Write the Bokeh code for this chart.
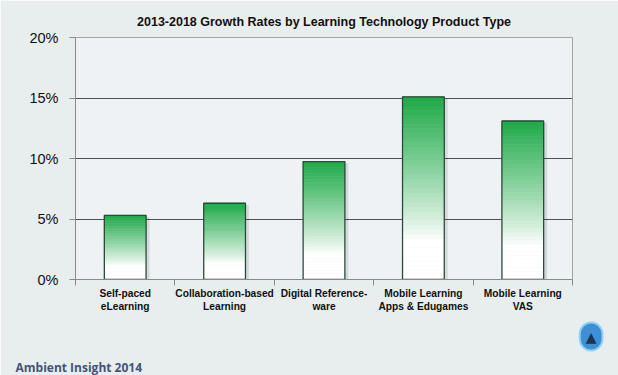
from bokeh.plotting import figure
from bokeh.models import (Range1d, LinearAxis, FixedTicker, PrintfTickFormatter,
                          Title)
from bokeh.embed import file_html
from bokeh.resources import INLINE

# ---- data ----
categories = ["Self-paced\neLearning", "Collaboration-based\nLearning",
              "Digital Reference-\nware", "Mobile Learning\nApps & Edugames",
              "Mobile Learning\nVAS"]
growth_pct = [5.3, 6.3, 9.75, 15.1, 13.1]
y_ticks = [0, 5, 10, 15, 20]
title_text = "2013-2018 Growth Rates by Learning Technology Product Type"
footer_text = "Ambient Insight  2014"

n = len(categories)
centers = [i + 0.5 for i in range(n)]

p = figure(width=618, height=375, output_backend="svg", toolbar_location=None,
           x_range=Range1d(0, n), y_range=Range1d(0, 20),
           min_border_left=75, min_border_right=46, min_border_top=37,
           min_border_bottom=96)

p.background_fill_color = "#eef2f4"
p.border_fill_color = "#e8eeed"
p.outline_line_color = "#a0a4a6"

# title
p.title = Title(text=title_text, align="center", offset=-18,
                text_font="Liberation Sans", text_font_style="bold",
                text_font_size="12.5px", text_color="#111111", standoff=18)

# grid
p.xgrid.visible = False
p.ygrid.ticker = FixedTicker(ticks=y_ticks)
p.ygrid.grid_line_color = "#505050"
p.ygrid.grid_line_width = 1

# y axis
p.yaxis.ticker = FixedTicker(ticks=y_ticks)
p.yaxis.formatter = PrintfTickFormatter(format="%d%%")
p.yaxis.major_label_text_font = "Liberation Sans"
p.yaxis.major_label_text_font_size = "14.5px"
p.yaxis.major_label_text_color = "#111111"
p.yaxis.axis_line_color = "#8a8a8a"
p.yaxis.major_tick_line_color = "#8a8a8a"
p.yaxis.major_tick_out = 6
p.yaxis.major_tick_in = 0
p.yaxis.minor_tick_line_color = None
p.yaxis.major_label_standoff = 11

# x axis: ticks at category boundaries only, no labels
p.xaxis.ticker = FixedTicker(ticks=list(range(n + 1)))
p.xaxis.major_label_overrides = {i: "" for i in range(n + 1)}
p.xaxis.major_label_text_font_size = "1px"
p.xaxis.major_label_standoff = 0
p.xaxis.axis_line_color = "#8a8a8a"
p.xaxis.major_tick_line_color = "#8a8a8a"
p.xaxis.major_tick_out = 6
p.xaxis.major_tick_in = 0
p.xaxis.minor_tick_line_color = None

# category label axis
lab_axis = LinearAxis(ticker=FixedTicker(ticks=centers),
                      major_label_overrides={c: lab for c, lab in zip(centers, categories)})
lab_axis.axis_line_color = None
lab_axis.major_tick_line_color = None
lab_axis.minor_tick_line_color = None
lab_axis.major_label_text_font = "Liberation Sans"
lab_axis.major_label_text_font_style = "bold"
lab_axis.major_label_text_font_size = "10.2px"
lab_axis.major_label_text_color = "#111111"
lab_axis.major_label_standoff = -4
p.add_layout(lab_axis, "below")

# bars with vertical gradient
bw = 0.42
top_rgb = (30, 170, 72)
N = 40
lefts, rights, bottoms, tops, colors = [], [], [], [], []
for c, v in zip(centers, growth_pct):
    for k in range(N):
        t = (k + 0.5) / N
        f = max(0.0, (t - 0.22) / 0.78) ** 0.9
        r = int(255 + (top_rgb[0] - 255) * f)
        g = int(255 + (top_rgb[1] - 255) * f)
        b = int(255 + (top_rgb[2] - 255) * f)
        lefts.append(c - bw / 2)
        rights.append(c + bw / 2)
        bottoms.append(v * k / N)
        tops.append(v * (k + 1) / N)
        colors.append("#%02x%02x%02x" % (r, g, b))

# shadow
p.vbar(x=[c + 0.035 for c in centers], top=[v - 0.15 for v in growth_pct],
       width=bw, fill_color="#000000", fill_alpha=0.10, line_color=None)
p.quad(left=lefts, right=rights, bottom=bottoms, top=tops,
       fill_color=colors, line_color=colors, line_width=0.5)
p.vbar(x=centers, top=growth_pct, width=bw, fill_color=None,
       line_color="#2c4a3a", line_width=1.3)

# logo (right-aligned) and footer (left-aligned) below the labels
logo = Title(text="\u25B2", align="right", offset=-30, standoff=12,
             text_font="DejaVu Sans", text_font_size="14px",
             text_color="#1d3550", background_fill_color="#3f8fd6",
             border_line_color="#8fd0f5", border_line_width=2,
             padding=6, border_radius=15)
p.add_layout(logo, "below")
footer = Title(text=footer_text, align="left", offset=-60, standoff=0,
               text_font="Open Sans", text_font_style="bold",
               text_font_size="12px", text_color="#44537a")
p.add_layout(footer, "below")

open("out.html", "w").write(file_html(p, INLINE))
